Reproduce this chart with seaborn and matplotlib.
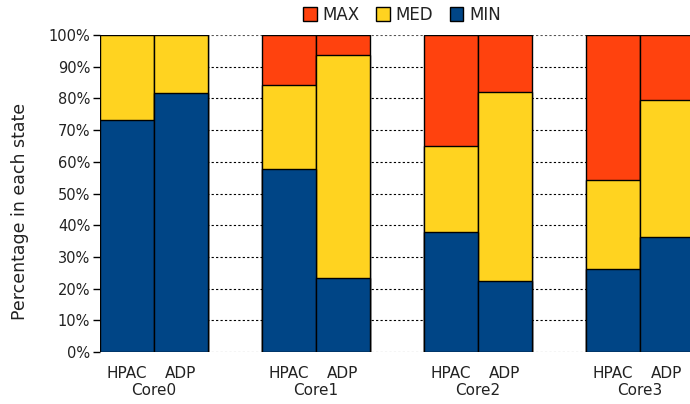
import matplotlib
matplotlib.use("Agg")
import matplotlib.pyplot as plt
import seaborn as sns
import numpy as np
import pandas as pd
from matplotlib.patches import Patch
import matplotlib.transforms as mtransforms

cores = ["Core0", "Core1", "Core2", "Core3"]
methods = ["HPAC", "ADP"]
min_vals = [73.2, 81.7, 57.7, 23.3, 37.9, 22.4, 26.2, 36.3]
med_vals = [26.8, 18.3, 26.5, 70.4, 27.1, 59.6, 28.1, 43.2]
max_vals = [0.0, 0.0, 15.8, 6.3, 35.0, 18.0, 45.7, 20.5]
yticks = [0, 10, 20, 30, 40, 50, 60, 70, 80, 90, 100]

c_max = "#ff420e"
c_med = "#ffd320"
c_min = "#004586"

pos = []
for g in range(len(cores)):
    for m in range(len(methods)):
        pos.append(g * 3 + m)
pos = np.array(pos, dtype=float)

mn = np.array(min_vals)
md = np.array(med_vals)
mx = np.array(max_vals)
df = pd.DataFrame({"pos": pos, "top_max": mn + md + mx, "top_med": mn + md, "top_min": mn})

sns.set_style("white")
plt.rcParams['font.family'] = ['DejaVu Sans']

fig = plt.figure(figsize=(6.9, 4.04), dpi=100)
ax = fig.add_axes([100 / 690, 52 / 404, 594 / 690, 317 / 404])

for col, c in [("top_max", c_max), ("top_med", c_med), ("top_min", c_min)]:
    sns.barplot(data=df, x="pos", y=col, native_scale=True, width=1.0, color=c,
                edgecolor="black", linewidth=1.0, saturation=1, ax=ax, zorder=3)

ax.set_xlim(-0.5, 10.5)
ax.set_ylim(0, 100)
ax.set_yticks(yticks)
ax.set_yticklabels([f"{t}%" for t in yticks], fontsize=10.5, color="#222222")
ax.tick_params(axis="y", length=5, width=1, color="black", pad=2, left=True)
ax.set_ylabel("Percentage in each state", fontsize=12.5, color="#222222")
ax.yaxis.set_label_coords(-0.1195, 0.442)
ax.set_xlabel("")

ax.set_xticks(pos)
ax.set_xticklabels(methods * len(cores), fontsize=11, color="#222222")
ax.tick_params(axis="x", length=0, pad=10)

trans = mtransforms.blended_transform_factory(ax.transData, ax.transAxes)
for g, name in enumerate(cores):
    ax.text(g * 3 + 0.5, -0.097, name, transform=trans, ha="center", va="top",
            fontsize=11, color="#222222")

for sp in ax.spines.values():
    sp.set_visible(False)

for t in yticks:
    col = "#555555" if t in (0, 100) else "black"
    ax.axhline(t, color=col, linestyle=(0, (2, 2)), linewidth=0.8, zorder=1)

handles = [Patch(facecolor=c_max, edgecolor="black", label="MAX"),
           Patch(facecolor=c_med, edgecolor="black", label="MED"),
           Patch(facecolor=c_min, edgecolor="black", label="MIN")]
leg = fig.legend(handles=handles, loc="center", bbox_to_anchor=(402 / 690, 1 - 15 / 404),
                 ncol=3, frameon=False, fontsize=12, handlelength=0.8, handleheight=0.9,
                 handletextpad=0.35, columnspacing=1.0)
for t in leg.get_texts():
    t.set_color("#222222")

fig.savefig("out.png", dpi=100)
